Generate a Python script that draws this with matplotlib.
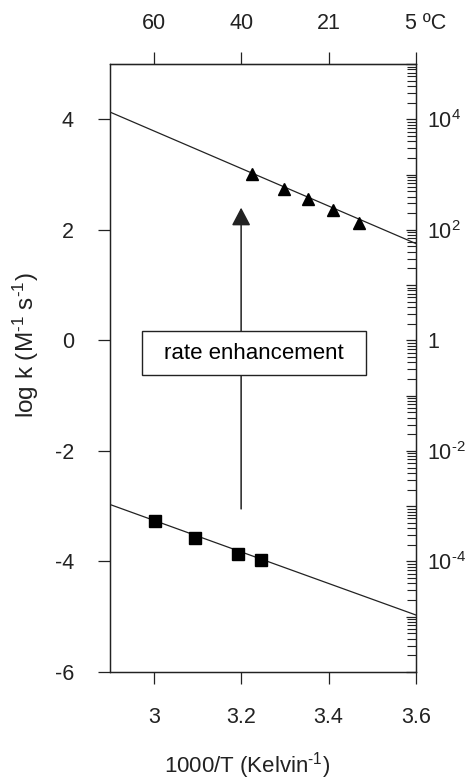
import matplotlib
matplotlib.use("Agg")
import matplotlib.pyplot as plt
from matplotlib.patches import Rectangle
from matplotlib.transforms import ScaledTranslation
from matplotlib.ticker import LogLocator, NullFormatter

plt.rcParams['font.family'] = ['Liberation Sans', 'DejaVu Sans']
plt.rcParams['mathtext.fontset'] = 'custom'
plt.rcParams['mathtext.rm'] = 'Liberation Sans'
plt.rcParams['mathtext.it'] = 'Liberation Sans'
plt.rcParams['axes.unicode_minus'] = False

# data
tri_x = [3.225, 3.299, 3.354, 3.411, 3.470]
tri_y = [3.01, 2.74, 2.56, 2.35, 2.12]
sq_x = [3.002, 3.095, 3.193, 3.245]
sq_y = [-3.26, -3.57, -3.86, -3.98]
fit_x = [2.9, 3.6]
fit_hi = [4.13, 1.75]
fit_lo = [-2.97, -4.97]

x_ticks = [3.0, 3.2, 3.4, 3.6]
x_labels = ['3', '3.2', '3.4', '3.6']
top_labels = ['60', '40', '21', '5 ºC']
y_ticks = [4, 2, 0, -2, -4, -6]
right_pos = [4, 2, 0, -2, -4]
right_labels = ['$10^{4}$', '$10^{2}$', '1', r'$10^{\text{-}2}$', r'$10^{\text{-}4}$']

fig = plt.figure(figsize=(4.67, 7.83), dpi=100)
ax = fig.add_axes([0.2355, 0.1418, 0.6553, 0.7765])
col = '#222222'

ax.plot(fit_x, fit_hi, color=col, lw=0.9, zorder=2)
ax.plot(fit_x, fit_lo, color=col, lw=0.9, zorder=2)
ax.plot(tri_x, tri_y, '^', color='black', ms=9, zorder=3)
ax.plot(sq_x, sq_y, 's', color='black', ms=8, zorder=3)

# arrow + box
ax.annotate('', xy=(3.2, 2.4), xytext=(3.2, -3.05),
            arrowprops=dict(arrowstyle='-|>,head_length=1.1,head_width=0.58',
                            color=col, lw=1.1, shrinkA=0, shrinkB=0,
                            mutation_scale=10), zorder=1)
ax.add_patch(Rectangle((2.973, -0.63), 0.513, 0.79, facecolor='white',
                       edgecolor=col, lw=1.0, zorder=4))
ax.text(3.23, -0.235, 'rate enhancement', ha='center', va='center',
        fontsize=16, zorder=5)

ax.set_xlim(2.9, 3.6)
ax.set_ylim(-6, 5)
ax.set_xticks(x_ticks)
ax.set_xticklabels(x_labels)
ax.set_yticks(y_ticks)
ax.set_yticklabels([str(v) for v in y_ticks])
ax.tick_params(axis='x', direction='out', length=8.5, width=0.9, pad=17,
               labelsize=15.5, colors=col)
ax.tick_params(axis='y', direction='out', length=9, width=0.9, pad=17,
               labelsize=15.5, colors=col)
for s in ax.spines.values():
    s.set_color(col)
    s.set_linewidth(0.9)

# top axis: temperature
top = ax.secondary_xaxis('top')
top.set_xticks(x_ticks)
top.set_xticklabels(top_labels)
top.tick_params(direction='out', length=8.5, width=0.9, pad=13,
                labelsize=15.5, colors=col)
top.spines['top'].set_color(col)
last = top.get_xticklabels()[-1]
last.set_horizontalalignment('left')
last.set_transform(last.get_transform() + ScaledTranslation(-8 / 72, 0, fig.dpi_scale_trans))

# right axis: k on log scale
rax = ax.twinx()
rax.set_yscale('log')
rax.set_ylim(1e-6, 1e5)
rax.yaxis.set_major_locator(LogLocator(base=10, numticks=20))
rax.yaxis.set_minor_locator(LogLocator(base=10, subs=range(2, 10), numticks=20))
rax.yaxis.set_minor_formatter(NullFormatter())
rax.yaxis.set_major_formatter(NullFormatter())
rax.tick_params(axis='y', which='major', direction='in', length=7.5, width=0.9,
                colors=col)
rax.tick_params(axis='y', which='minor', direction='in', length=6.5, width=0.8,
                colors=col)
for s in rax.spines.values():
    s.set_color(col)
    s.set_linewidth(0.9)
# labels only every second decade
lab = ax.secondary_yaxis('right')
lab.set_yticks(right_pos)
lab.set_yticklabels(right_labels)
lab.tick_params(length=0, pad=8, labelsize=15.5, colors=col)
lab.spines['right'].set_visible(False)

fig.text(26 / 467, 1 - 345 / 783, 'log k (M$^{\\text{-}1}$ s$^{\\text{-}1}$)', rotation=90,
         ha='center', va='center', fontsize=17.5, color=col)
fig.text(247 / 467, 1 - 766 / 783, '1000/T (Kelvin$^{\\text{-}1}$)', ha='center',
         va='center', fontsize=16, color=col)

fig.savefig('out.png', dpi=100)
